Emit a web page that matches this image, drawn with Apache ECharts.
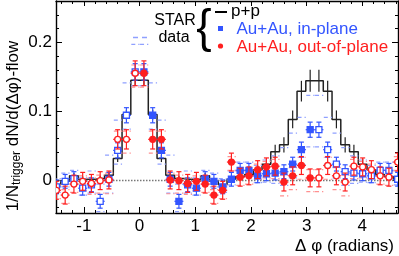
<!DOCTYPE html>
<html><head><meta charset="utf-8">
<script src="https://cdn.jsdelivr.net/npm/echarts@6/dist/echarts.min.js"></script>
<style>html,body{margin:0;padding:0;background:#fff}#c{width:399px;height:256px}</style>
</head><body><div id="c"></div>
<script>
// 40 bins of width pi/20 covering -pi/2 .. 3pi/2 (bin k=-10..29)
const binWidth = Math.PI / 20;
const dphi = Array.from({length: 40}, (_, i) => -Math.PI / 2 + (i + 0.5) * binWidth);

const xMajorTicks = [-1, 0, 1, 2, 3, 4];
const yMajorTicks = [0, 0.1, 0.2];

// p+p histogram
const ppVals = [-0.007,-0.002,0.006,0.001,0.001,0.002,0.007,0.031,0.095,0.145,
                0.145,0.095,0.031,0.007,0.002,0.001,0.001,0.006,-0.002,-0.007,
                0.001,0.005,0.008,0.015,0.023,0.041,0.051,0.088,0.129,0.144,
                0.144,0.129,0.088,0.051,0.041,0.023,0.015,0.008,0.005,0.001];
const ppErr = [0.004,0.004,0.004,0.004,0.004,0.004,0.004,0.005,0.007,0.008,
               0.008,0.007,0.005,0.004,0.004,0.004,0.004,0.004,0.004,0.004,
               0.004,0.004,0.005,0.006,0.008,0.010,0.011,0.013,0.015,0.016,
               0.016,0.015,0.013,0.011,0.010,0.008,0.006,0.005,0.004,0.004];

// Au+Au in-plane
const inVals = [-0.010,-0.002,0.002,-0.012,-0.007,-0.031,0.001,0.043,0.094,0.157,
                0.157,0.094,0.043,0.001,-0.031,-0.007,-0.012,0.002,-0.002,-0.010,
                0.001,0.014,0.014,0.006,0.009,0.010,0.012,0.023,0.044,0.073,
                0.073,0.044,0.023,0.012,0.010,0.009,0.006,0.014,0.014,0.001];
const inErr = [0.010,0.010,0.010,0.010,0.010,0.010,0.010,0.011,0.011,0.012,
               0.012,0.011,0.011,0.010,0.010,0.010,0.010,0.010,0.010,0.010,
               0.010,0.010,0.010,0.010,0.010,0.010,0.010,0.010,0.011,0.011,
               0.011,0.011,0.010,0.010,0.010,0.010,0.010,0.010,0.010,0.010];
const inSysHi = [0.012,0.012,0.012,0.015,0.020,0.025,0.035,0.044,0.047,0.040,
                 0.040,0.047,0.044,0.035,0.025,0.020,0.015,0.012,0.012,0.012,
                 0.012,0.012,0.012,0.015,0.020,0.025,0.035,0.045,0.047,0.050,
                 0.050,0.047,0.045,0.035,0.025,0.020,0.015,0.012,0.012,0.012];
const inSysLo = [0.008,0.008,0.008,0.010,0.012,0.015,0.020,0.020,0.020,0.020,
                 0.020,0.020,0.020,0.020,0.015,0.012,0.010,0.008,0.008,0.008,
                 0.008,0.008,0.008,0.010,0.012,0.015,0.020,0.020,0.022,0.025,
                 0.025,0.022,0.020,0.020,0.015,0.012,0.010,0.008,0.008,0.008];

// Au+Au out-of-plane
const outVals = [-0.015,-0.022,-0.006,-0.002,-0.005,-0.001,0.000,0.059,0.059,0.155,
                 0.155,0.059,0.059,0.000,-0.001,-0.005,-0.002,-0.006,-0.022,-0.015,
                 0.026,0.004,0.006,0.015,0.019,0.020,-0.003,0.006,0.021,0.003,
                 0.003,0.021,0.006,-0.003,0.020,0.019,0.015,0.006,0.004,0.026];
const outErr = [0.013,0.013,0.013,0.013,0.013,0.013,0.013,0.014,0.014,0.018,
                0.018,0.014,0.014,0.013,0.013,0.013,0.013,0.013,0.013,0.013,
                0.013,0.013,0.013,0.013,0.013,0.013,0.013,0.013,0.013,0.013,
                0.013,0.013,0.013,0.013,0.013,0.013,0.013,0.013,0.013,0.013];
const outSysHi = [0.008,0.008,0.008,0.008,0.008,0.008,0.010,0.012,0.012,0.012,
                  0.012,0.012,0.012,0.010,0.008,0.008,0.008,0.008,0.008,0.008,
                  0.008,0.008,0.008,0.008,0.008,0.010,0.010,0.012,0.012,0.012,
                  0.012,0.012,0.012,0.010,0.010,0.008,0.008,0.008,0.008,0.008];
const outSysLo = [0.012,0.012,0.012,0.014,0.016,0.018,0.020,0.020,0.020,0.020,
                  0.020,0.020,0.020,0.020,0.018,0.016,0.014,0.012,0.012,0.012,
                  0.012,0.012,0.012,0.014,0.016,0.018,0.020,0.020,0.020,0.020,
                  0.020,0.020,0.020,0.020,0.018,0.016,0.014,0.012,0.012,0.012];

const FONT = 'Liberation Sans, Arial, sans-serif';
const BLUE = '#3355ff', RED = '#ff1f1f', LBLUE = '#8fa0ff', LRED = '#ff9090', BLACK = '#222';

const xMin = -1.5, xMax = 4.64, yMin = -0.048, yMax = 0.26;
const xMinor = [], yMinor = [];
for (let v = -14; v <= 46; v += 2) if (v % 10 !== 0) xMinor.push(v / 10);
for (let v = -4; v <= 26; v += 2) if (v % 10 !== 0) yMinor.push(v / 100);

function tickAxis(type, pos, majors, len, withLabels) {
  return {
    type: 'value', position: pos, min: type === 'x' ? xMin : yMin, max: type === 'x' ? xMax : yMax,
    axisLine: {show: true, onZero: false, lineStyle: {color: '#000', width: 1.4}},
    axisTick: {show: true, inside: true, length: len, customValues: majors, lineStyle: {color: '#000', width: 1}},
    axisLabel: withLabels ? {show: true, customValues: majors, fontSize: 17, color: '#000', fontFamily: FONT, margin: type === 'x' ? 5 : 4,
      formatter: v => String(Math.round(v * 100) / 100)} : {show: false},
    splitLine: {show: false}
  };
}
function minorAxis(type, pos, minors, len) {
  return {
    type: 'value', position: pos, min: type === 'x' ? xMin : yMin, max: type === 'x' ? xMax : yMax,
    axisLine: {show: false, onZero: false}, axisLabel: {show: false}, splitLine: {show: false},
    axisTick: {show: true, inside: true, length: len, customValues: minors, lineStyle: {color: '#000', width: 1}}
  };
}

function makePoints(name, vals, errs, color, shape, z) {
  return {
    type: 'custom', name, z, clip: true, xAxisIndex: 0, yAxisIndex: 0,
    data: vals.map((v, i) => [dphi[i], v, errs[i]]),
    renderItem(params, api) {
      const x = api.value(0), y = api.value(1), e = api.value(2);
      const c = api.coord([x, y]), t = api.coord([x, y + e]), b = api.coord([x, y - e]);
      const open = x < 0 || x > Math.PI;
      const ls = {stroke: color, lineWidth: 1.2};
      const kids = [
        {type: 'line', shape: {x1: c[0], y1: t[1], x2: c[0], y2: b[1]}, style: ls},
        {type: 'line', shape: {x1: c[0] - 2.5, y1: t[1], x2: c[0] + 2.5, y2: t[1]}, style: ls},
        {type: 'line', shape: {x1: c[0] - 2.5, y1: b[1], x2: c[0] + 2.5, y2: b[1]}, style: ls},
        {type: 'line', shape: {x1: c[0] - 4.5, y1: c[1], x2: c[0] + 4.5, y2: c[1]}, style: ls}
      ];
      const fill = open ? '#fff' : color;
      if (shape === 'rect') kids.push({type: 'rect', shape: {x: c[0] - 3, y: c[1] - 3, width: 6, height: 6}, style: {fill, stroke: color, lineWidth: 1.3}});
      else kids.push({type: 'circle', shape: {cx: c[0], cy: c[1], r: 3}, style: {fill, stroke: color, lineWidth: 1.3}});
      return {type: 'group', children: kids};
    }
  };
}
function makeSys(vals, hi, lo, color, z) {
  return {
    type: 'custom', z, clip: true, xAxisIndex: 0, yAxisIndex: 0,
    data: vals.map((v, i) => [dphi[i], v + hi[i], v - lo[i]]),
    renderItem(params, api) {
      const x = api.value(0);
      const kids = [];
      [api.value(1), api.value(2)].forEach(yy => {
        const a = api.coord([x - binWidth / 2, yy]), b = api.coord([x + binWidth / 2, yy]);
        kids.push({type: 'line', shape: {x1: a[0] + 0.5, y1: a[1], x2: b[0], y2: b[1]}, style: {stroke: color, lineWidth: 1.2, lineDash: [4, 3]}});
      });
      return {type: 'group', children: kids};
    }
  };
}

const chart = echarts.init(document.getElementById('c'), null, {renderer: 'canvas'});
chart.setOption({
  animation: false,
  backgroundColor: '#fff',
  grid: {left: 56, right: 1, top: 1, bottom: 43, containLabel: false, outerBoundsMode: 'none'},
  xAxis: [
    tickAxis('x', 'bottom', xMajorTicks, 6, true),
    minorAxis('x', 'bottom', xMinor, 3),
    tickAxis('x', 'top', xMajorTicks, 5, false),
    minorAxis('x', 'top', xMinor, 3)
  ],
  yAxis: [
    tickAxis('y', 'left', yMajorTicks, 6, true),
    minorAxis('y', 'left', yMinor, 3),
    tickAxis('y', 'right', yMajorTicks, 6, false),
    minorAxis('y', 'right', yMinor, 3)
  ],
  series: [
    {
      type: 'line', name: 'p+p', step: 'middle', xAxisIndex: 0, yAxisIndex: 0, z: 3,
      data: ppVals.map((v, i) => [dphi[i], v]),
      showSymbol: false, lineStyle: {color: BLACK, width: 1.5},
      markLine: {silent: true, symbol: 'none', label: {show: false}, data: [{yAxis: 0}],
        lineStyle: {color: '#777', type: [1.5, 1.5], width: 1.3}}
    },
    {
      type: 'custom', name: 'p+p err', z: 3, clip: true, xAxisIndex: 0, yAxisIndex: 0,
      data: ppVals.map((v, i) => [dphi[i], v, ppErr[i]]),
      renderItem(params, api) {
        const x = api.value(0), y = api.value(1), e = api.value(2);
        const t = api.coord([x, y + e]), b = api.coord([x, y - e]);
        return {type: 'line', shape: {x1: t[0], y1: t[1], x2: b[0], y2: b[1]}, style: {stroke: BLACK, lineWidth: 1.2}};
      }
    },
    makeSys(inVals, inSysHi, inSysLo, LBLUE, 4),
    makeSys(outVals, outSysHi, outSysLo, LRED, 4),
    makePoints('Au+Au, in-plane', inVals, inErr, BLUE, 'rect', 5),
    makePoints('Au+Au, out-of-plane', outVals, outErr, RED, 'circle', 6)
  ],
  graphic: [
    {type: 'text', x: 13, y: 126, rotation: Math.PI / 2, z: 10,
      style: {text: '{m|1/N}{s|trigger}{m| dN/d(\u0394\u03c6)-flow}',
        rich: {m: {fontSize: 17, fontFamily: FONT, lineHeight: 20, fill: '#000'},
               s: {fontSize: 12, fontFamily: FONT, lineHeight: 12, padding: [10, 0, 0, 0], verticalAlign: 'bottom', fill: '#000'}},
        align: 'center', verticalAlign: 'middle', textAlign: 'center', textVerticalAlign: 'middle', fill: '#000'}},
    {type: 'text', x: 394, y: 246, z: 10,
      style: {text: '\u0394 \u03c6 (radians)', font: '17px ' + FONT, fill: '#000', align: 'right', verticalAlign: 'middle', textAlign: 'right', textVerticalAlign: 'middle'}},
    {type: 'text', x: 175, y: 21, z: 10,
      style: {text: 'STAR', font: '16px ' + FONT, fill: '#000', align: 'center', verticalAlign: 'middle', textAlign: 'center', textVerticalAlign: 'middle'}},
    {type: 'text', x: 174, y: 37.5, z: 10,
      style: {text: 'data', font: '16px ' + FONT, fill: '#000', align: 'center', verticalAlign: 'middle', textAlign: 'center', textVerticalAlign: 'middle'}},
    {type: 'line', z: 10, shape: {x1: 133, y1: 37.5, x2: 148, y2: 37.5}, style: {stroke: LBLUE, lineWidth: 1.3, lineDash: [5, 4]}},
    {type: 'text', x: 204, y: 29, z: 10,
      style: {text: '{', font: '46px ' + FONT, fill: '#000', align: 'center', verticalAlign: 'middle', textAlign: 'center', textVerticalAlign: 'middle'}},
    {type: 'line', z: 10, shape: {x1: 215, y1: 12, x2: 227, y2: 12}, style: {stroke: '#000', lineWidth: 2}},
    {type: 'text', x: 231, y: 11.5, z: 10,
      style: {text: 'p+p', font: '17px ' + FONT, fill: '#000', align: 'left', verticalAlign: 'middle', textAlign: 'left', textVerticalAlign: 'middle'}},
    {type: 'rect', z: 10, shape: {x: 218, y: 26, width: 5, height: 5}, style: {fill: BLUE}},
    {type: 'text', x: 236.5, y: 29, z: 10,
      style: {text: 'Au+Au, in-plane', font: '17px ' + FONT, fill: BLUE, align: 'left', verticalAlign: 'middle', textAlign: 'left', textVerticalAlign: 'middle'}},
    {type: 'circle', z: 10, shape: {cx: 220.5, cy: 46, r: 2.6}, style: {fill: RED}},
    {type: 'text', x: 236.5, y: 47, z: 10,
      style: {text: 'Au+Au, out-of-plane', font: '17px ' + FONT, fill: RED, align: 'left', verticalAlign: 'middle', textAlign: 'left', textVerticalAlign: 'middle'}}
  ]
});
</script></body></html>
